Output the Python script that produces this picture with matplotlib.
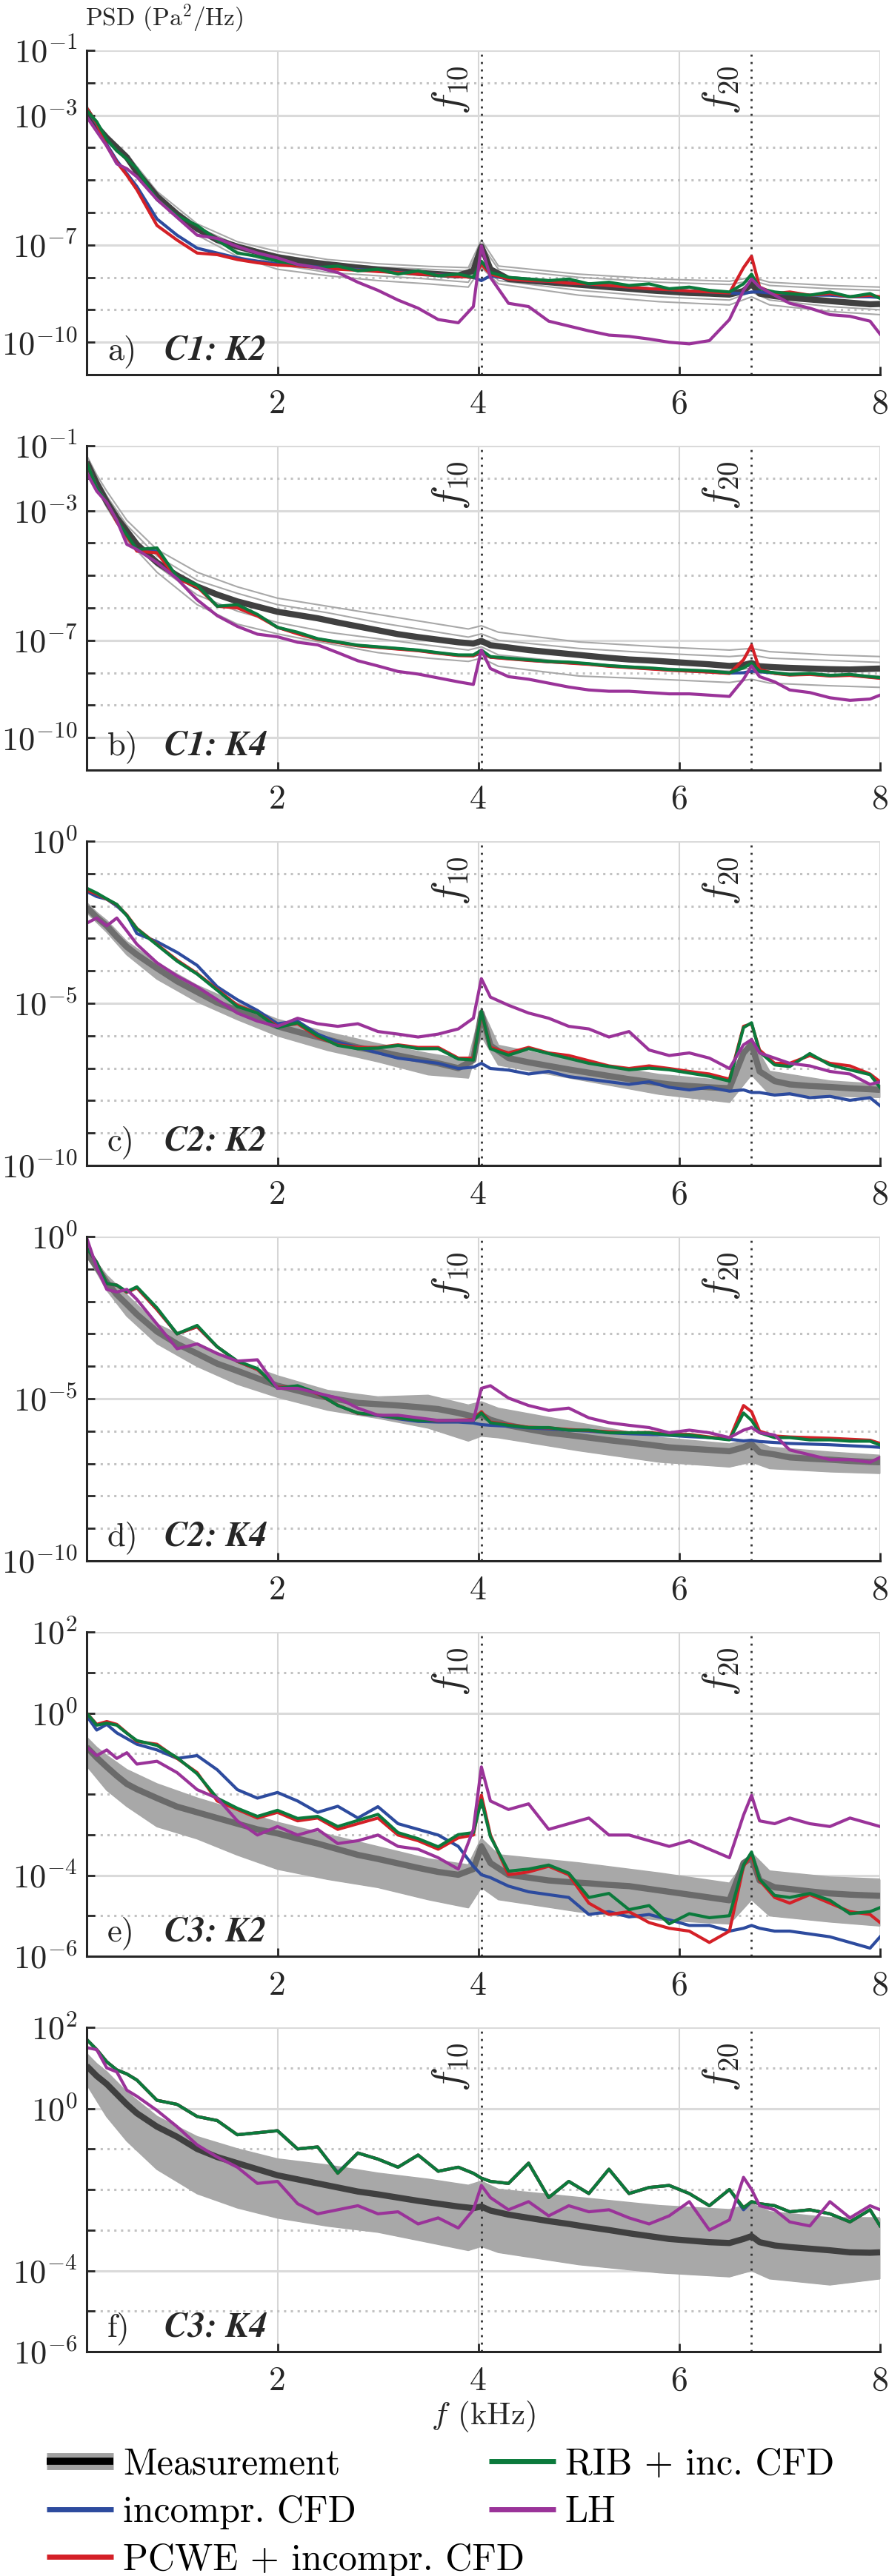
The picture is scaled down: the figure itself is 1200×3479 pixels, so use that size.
import matplotlib
matplotlib.use("Agg")
import matplotlib.pyplot as plt
import numpy as np
from matplotlib.lines import Line2D
from matplotlib.ticker import FixedLocator, FuncFormatter, NullFormatter

plt.rcParams["font.family"] = "serif"
plt.rcParams["font.serif"] = ["cmr10"]
plt.rcParams["mathtext.fontset"] = "cm"
plt.rcParams["axes.unicode_minus"] = False

# frequency grid (kHz) of the simulated / mean spectra
freq = [0.1, 0.2, 0.3, 0.4, 0.5, 0.6, 0.8, 1.0, 1.2, 1.4, 1.6, 1.8,
        2.0, 2.2, 2.4, 2.6, 2.8, 3.0, 3.2, 3.4, 3.6, 3.8, 3.95, 4.03,
        4.12, 4.3, 4.5, 4.7, 4.9, 5.1, 5.3, 5.5, 5.7, 5.9, 6.1, 6.3,
        6.5, 6.64, 6.72, 6.8, 6.95, 7.1, 7.3, 7.5, 7.7, 7.9, 8.0]
# coarser grid of the single measurement runs
freq_runs = [0.1, 0.2, 0.3, 0.5, 0.8, 1.2, 1.6, 2.0, 2.5, 3.0, 3.5, 3.9,
             4.03, 4.2, 5.0, 5.8, 6.5, 6.72, 6.9, 7.5, 8.0]

f10 = 4.03
f20 = 6.72

# all PSD values as log10(Pa^2/Hz)
# ---- a) C1: K2
mean_a = [-2.85, -3.35, -3.7, -4.0, -4.3, -4.75, -5.5, -6.05, -6.5, -6.85, -7.05, -7.22,
          -7.38, -7.48, -7.56, -7.63, -7.7, -7.76, -7.81, -7.86, -7.9, -7.94, -7.8, -7.05,
          -7.75, -8.05, -8.1, -8.15, -8.2, -8.25, -8.3, -8.35, -8.4, -8.44, -8.48, -8.5,
          -8.53, -8.42, -8.2, -8.5, -8.58, -8.63, -8.68, -8.73, -8.78, -8.83, -8.82]
blue_a = [-2.8, -3.28, -3.9, -4.4, -4.8, -5.2, -6.2, -6.7, -7.1, -7.25, -7.4, -7.5,
          -7.58, -7.62, -7.68, -7.73, -7.76, -7.8, -7.84, -7.88, -7.92, -7.96, -8.0, -8.1,
          -7.95, -8.05, -8.1, -8.12, -8.18, -8.2, -8.25, -8.3, -8.35, -8.38, -8.42, -8.45,
          -8.48, -8.5, -8.45, -8.45, -8.5, -8.5, -8.55, -8.55, -8.6, -8.6, -8.62]
red_a = [-2.78, -3.25, -3.95, -4.45, -4.85, -5.3, -6.4, -6.85, -7.25, -7.3, -7.45, -7.55,
         -7.62, -7.65, -7.7, -7.75, -7.78, -7.82, -7.85, -7.9, -7.93, -7.97, -8.0, -7.6,
         -7.9, -8.05, -8.1, -8.12, -8.18, -8.2, -8.25, -8.3, -8.35, -8.38, -8.42, -8.45,
         -8.48, -7.7, -7.35, -8.3, -8.5, -8.45, -8.55, -8.5, -8.6, -8.55, -8.6]
green_a = [-2.85, -3.2, -3.75, -4.1, -4.35, -4.65, -5.6, -6.1, -6.4, -6.85, -7.25, -7.35,
           -7.5, -7.6, -7.7, -7.65, -7.8, -7.75, -7.9, -7.8, -7.95, -7.9, -8.0, -7.5,
           -7.85, -8.0, -8.05, -8.1, -8.05, -8.2, -8.15, -8.25, -8.2, -8.35, -8.3, -8.4,
           -8.45, -8.2, -7.9, -8.35, -8.45, -8.5, -8.55, -8.45, -8.6, -8.5, -8.65]
purple_a = [-3.05, -3.5, -3.95, -4.5, -4.65, -4.9, -5.6, -6.15, -6.7, -6.8, -7.05, -7.25,
            -7.4, -7.6, -7.7, -7.85, -8.15, -8.4, -8.7, -8.95, -9.3, -9.4, -8.9, -7.03,
            -8.0, -8.8, -8.9, -9.35, -9.5, -9.65, -9.78, -9.82, -9.9, -10.0, -10.05, -9.95,
            -9.3, -8.4, -8.05, -8.3, -8.55, -8.8, -8.95, -9.15, -9.2, -9.35, -9.75]
runs_a = [
    [-2.7, -3.25, -3.6, -4.2, -5.35, -6.35, -6.9, -7.2, -7.45, -7.58, -7.66, -7.7, -6.85,
     -7.65, -7.9, -8.05, -8.12, -8.0, -8.15, -8.25, -8.3],
    [-2.8, -3.3, -3.7, -4.3, -5.45, -6.45, -7.0, -7.3, -7.55, -7.68, -7.75, -7.8, -7.0,
     -7.75, -8.0, -8.15, -8.22, -8.1, -8.25, -8.35, -8.4],
    [-2.85, -3.35, -3.75, -4.35, -5.5, -6.55, -7.2, -7.6, -7.85, -7.95, -8.05, -8.15, -7.5,
     -8.1, -8.4, -8.6, -8.7, -8.45, -8.7, -8.9, -9.0],
    [-2.9, -3.4, -3.8, -4.4, -5.6, -6.7, -7.35, -7.75, -7.95, -8.1, -8.2, -8.3, -7.7,
     -8.2, -8.55, -8.75, -8.85, -8.6, -8.85, -9.05, -9.15],
]

# ---- b) C1: K4
mean_b = [-1.5, -2.16, -2.73, -3.22, -3.63, -4.04, -4.6, -5.0, -5.34, -5.59, -5.8, -5.96,
          -6.12, -6.22, -6.32, -6.45, -6.57, -6.69, -6.81, -6.9, -6.98, -7.06, -7.1, -7.02,
          -7.15, -7.22, -7.3, -7.36, -7.42, -7.48, -7.54, -7.59, -7.62, -7.66, -7.7, -7.74,
          -7.79, -7.76, -7.7, -7.8, -7.83, -7.85, -7.87, -7.89, -7.9, -7.88, -7.87]
blue_b = [-1.5, -2.28, -2.75, -3.32, -3.78, -4.22, -4.25, -5.08, -5.32, -5.95, -5.95, -6.22,
          -6.6, -6.78, -6.96, -7.06, -7.16, -7.21, -7.26, -7.31, -7.39, -7.46, -7.47, -7.4,
          -7.52, -7.56, -7.61, -7.66, -7.69, -7.73, -7.79, -7.83, -7.87, -7.91, -7.94, -7.97,
          -8.01, -8.0, -7.95, -7.97, -8.01, -8.06, -8.04, -8.09, -8.07, -8.13, -8.16]
red_b = [-1.5, -2.3, -2.75, -3.35, -3.8, -4.25, -4.3, -5.1, -5.35, -5.95, -6.0, -6.25,
         -6.6, -6.8, -6.97, -7.07, -7.17, -7.22, -7.27, -7.32, -7.4, -7.47, -7.48, -7.35,
         -7.52, -7.57, -7.62, -7.66, -7.7, -7.74, -7.8, -7.84, -7.88, -7.92, -7.95, -7.98,
         -8.02, -7.6, -7.15, -7.9, -8.02, -8.07, -8.05, -8.1, -8.08, -8.14, -8.17]
green_b = [-1.5, -2.3, -2.75, -3.3, -3.75, -4.2, -4.15, -5.05, -5.3, -5.95, -5.9, -6.2,
           -6.6, -6.75, -6.95, -7.05, -7.15, -7.2, -7.25, -7.3, -7.38, -7.45, -7.45, -7.3,
           -7.5, -7.55, -7.6, -7.65, -7.67, -7.72, -7.78, -7.82, -7.85, -7.9, -7.92, -7.95,
           -8.0, -7.85, -7.7, -7.95, -8.0, -8.05, -8.02, -8.08, -8.05, -8.12, -8.15]
purple_b = [-1.83, -2.4, -2.75, -3.3, -4.04, -4.2, -4.6, -5.1, -5.75, -6.24, -6.57, -6.81,
            -6.89, -7.06, -7.14, -7.38, -7.63, -7.79, -7.96, -8.04, -8.16, -8.28, -8.36, -7.3,
            -7.87, -8.12, -8.2, -8.32, -8.44, -8.53, -8.57, -8.57, -8.61, -8.65, -8.65, -8.69,
            -8.73, -8.2, -7.79, -8.12, -8.28, -8.53, -8.61, -8.77, -8.85, -8.81, -8.69]
runs_b = [
    [-1.3, -1.9, -2.4, -3.3, -4.2, -4.9, -5.35, -5.7, -5.95, -6.2, -6.45, -6.65, -6.55,
     -6.75, -7.05, -7.2, -7.3, -7.25, -7.35, -7.45, -7.5],
    [-1.4, -2.0, -2.55, -3.45, -4.4, -5.15, -5.55, -5.9, -6.15, -6.45, -6.7, -6.9, -6.8,
     -7.0, -7.25, -7.4, -7.5, -7.45, -7.55, -7.62, -7.68],
    [-1.55, -2.2, -2.8, -3.75, -4.7, -5.6, -6.1, -6.45, -6.75, -6.95, -7.15, -7.3, -7.2,
     -7.45, -7.7, -7.85, -7.95, -7.85, -7.98, -8.05, -8.1],
    [-1.6, -2.3, -2.9, -3.9, -4.9, -5.9, -6.5, -6.8, -7.1, -7.38, -7.55, -7.65, -7.55,
     -7.8, -8.1, -8.2, -8.3, -8.2, -8.32, -8.4, -8.45],
]

# ---- c) C2: K2
mean_c = [-2.04, -2.35, -2.61, -2.95, -3.26, -3.5, -3.92, -4.32, -4.65, -4.98, -5.22, -5.46,
          -5.71, -5.88, -6.04, -6.2, -6.36, -6.48, -6.61, -6.73, -6.85, -7.0, -6.75, -5.3,
          -6.3, -6.69, -6.82, -6.93, -7.04, -7.14, -7.24, -7.34, -7.42, -7.5, -7.55, -7.59,
          -7.62, -6.53, -6.25, -7.1, -7.4, -7.5, -7.55, -7.58, -7.62, -7.65, -7.67]
blue_c = [-1.55, -1.71, -1.79, -2.0, -2.28, -2.85, -3.1, -3.43, -3.83, -4.49, -4.89, -5.22,
          -5.63, -5.55, -5.95, -6.2, -6.36, -6.53, -6.69, -6.77, -6.85, -7.01, -6.97, -6.85,
          -7.01, -7.06, -7.18, -7.1, -7.26, -7.34, -7.42, -7.5, -7.42, -7.59, -7.67, -7.59,
          -7.71, -7.67, -7.75, -7.75, -7.83, -7.79, -7.91, -7.87, -7.99, -7.91, -8.16]
red_c = [-1.51, -1.63, -1.79, -1.96, -2.28, -2.69, -3.18, -3.67, -4.08, -4.57, -5.06, -5.3,
         -5.71, -5.63, -6.04, -6.28, -6.36, -6.36, -6.28, -6.36, -6.36, -6.69, -6.69, -5.3,
         -6.36, -6.53, -6.36, -6.53, -6.61, -6.77, -6.93, -7.01, -6.93, -7.01, -7.1, -7.18,
         -7.34, -5.71, -5.63, -6.44, -6.85, -6.85, -6.61, -6.85, -6.93, -7.18, -7.42]
green_c = [-1.45, -1.6, -1.78, -1.95, -2.3, -2.7, -3.2, -3.7, -4.1, -4.6, -5.1, -5.3,
           -5.75, -5.6, -6.0, -6.3, -6.4, -6.38, -6.3, -6.4, -6.4, -6.72, -6.75, -5.25,
           -6.4, -6.6, -6.4, -6.55, -6.7, -6.85, -6.95, -7.05, -7.0, -7.05, -7.15, -7.25,
           -7.4, -5.75, -5.6, -6.5, -6.9, -6.95, -6.55, -6.9, -7.05, -7.2, -7.6]
purple_c = [-2.53, -2.37, -2.61, -2.37, -2.77, -3.18, -3.75, -4.16, -4.49, -4.89, -5.3, -5.55,
            -5.71, -5.46, -5.63, -5.71, -5.63, -5.87, -5.95, -6.04, -5.95, -5.79, -5.46, -4.24,
            -4.81, -5.06, -5.3, -5.46, -5.71, -5.79, -6.04, -5.87, -6.44, -6.61, -6.53, -6.69,
            -7.01, -6.28, -6.12, -6.53, -6.69, -6.85, -6.93, -7.1, -7.18, -7.5, -7.42]
runs_c = [
    [-1.9, -2.2, -2.45, -3.1, -3.75, -4.45, -5.0, -5.5, -5.9, -6.25, -6.55, -6.75, -5.15,
     -6.3, -6.8, -7.2, -7.4, -6.1, -7.1, -7.4, -7.5],
    [-2.1, -2.4, -2.7, -3.3, -4.05, -4.75, -5.3, -5.8, -6.2, -6.55, -6.95, -7.1, -5.6,
     -6.6, -7.1, -7.5, -7.8, -6.7, -7.5, -7.7, -7.75],
    [-2.2, -2.5, -2.8, -3.5, -4.25, -4.95, -5.5, -6.0, -6.45, -6.8, -7.2, -7.3, -6.0,
     -6.9, -7.35, -7.8, -8.05, -7.2, -7.8, -7.85, -7.9],
]

# ---- d) C2: K4
mean_d = [-0.49, -0.95, -1.41, -1.79, -2.09, -2.4, -2.93, -3.31, -3.61, -3.92, -4.14, -4.37,
          -4.6, -4.75, -4.91, -5.02, -5.13, -5.17, -5.21, -5.26, -5.32, -5.44, -5.55, -5.5,
          -5.65, -5.82, -5.94, -6.05, -6.12, -6.2, -6.28, -6.35, -6.42, -6.5, -6.54, -6.58,
          -6.62, -6.5, -6.4, -6.65, -6.72, -6.81, -6.85, -6.88, -6.92, -6.95, -6.96]
blue_d = [-0.34, -0.8, -1.45, -1.5, -1.72, -1.58, -2.25, -3.0, -2.78, -3.4, -3.85, -4.1,
          -4.65, -4.62, -4.85, -5.2, -5.45, -5.52, -5.62, -5.7, -5.72, -5.72, -5.75, -5.8,
          -5.82, -5.85, -5.9, -5.93, -5.97, -6.0, -6.05, -6.08, -6.1, -6.13, -6.17, -6.2,
          -6.25, -6.3, -6.28, -6.32, -6.35, -6.38, -6.4, -6.42, -6.45, -6.48, -6.5]
red_d = [-0.34, -0.8, -1.45, -1.5, -1.72, -1.58, -2.25, -3.0, -2.78, -3.4, -3.85, -4.1,
         -4.65, -4.62, -4.85, -5.2, -5.45, -5.5, -5.6, -5.65, -5.68, -5.66, -5.65, -5.4,
         -5.72, -5.8, -5.88, -5.9, -5.95, -5.98, -6.02, -6.05, -6.04, -6.1, -6.1, -6.18,
         -6.25, -5.21, -5.4, -6.0, -6.15, -6.18, -6.2, -6.22, -6.25, -6.28, -6.38]
green_d = [-0.34, -0.8, -1.45, -1.5, -1.7, -1.55, -2.2, -3.0, -2.74, -3.4, -3.84, -4.07,
           -4.68, -4.6, -4.83, -5.21, -5.44, -5.51, -5.59, -5.67, -5.67, -5.67, -5.67, -5.44,
           -5.74, -5.82, -5.89, -5.89, -5.97, -5.97, -6.05, -6.05, -6.05, -6.12, -6.12, -6.2,
           -6.27, -5.44, -5.67, -6.05, -6.2, -6.2, -6.27, -6.27, -6.31, -6.31, -6.43]
purple_d = [-0.04, -0.95, -1.63, -1.71, -1.63, -1.94, -2.7, -3.46, -3.31, -3.61, -3.84, -3.8,
            -4.68, -4.68, -4.83, -4.98, -5.29, -5.51, -5.51, -5.59, -5.67, -5.67, -5.67, -4.68,
            -4.6, -4.98, -5.21, -5.36, -5.29, -5.59, -5.74, -5.82, -5.89, -6.05, -5.97, -6.05,
            -6.2, -5.97, -5.89, -6.05, -6.12, -6.58, -6.73, -6.88, -6.88, -6.96, -6.81]
runs_d = [
    [-0.4, -0.8, -1.2, -1.8, -2.7, -3.3, -3.85, -4.3, -4.75, -4.95, -4.9, -5.2, -5.1,
     -5.3, -5.75, -6.2, -6.4, -6.25, -6.5, -6.65, -6.75],
    [-0.5, -0.95, -1.45, -2.15, -3.0, -3.7, -4.2, -4.6, -5.0, -5.25, -5.4, -5.8, -5.6,
     -5.8, -6.2, -6.55, -6.75, -6.6, -6.8, -6.95, -7.05],
    [-0.6, -1.1, -1.65, -2.45, -3.3, -4.0, -4.55, -4.95, -5.35, -5.6, -5.9, -6.3, -6.15,
     -6.2, -6.6, -6.95, -7.1, -6.95, -7.15, -7.25, -7.3],
]

# ---- e) C3: K2
mean_e = [-0.84, -1.1, -1.33, -1.55, -1.75, -1.88, -2.1, -2.31, -2.45, -2.59, -2.73, -2.87,
          -2.97, -3.1, -3.22, -3.36, -3.5, -3.6, -3.71, -3.82, -3.92, -3.99, -3.85, -3.29,
          -3.7, -3.99, -4.06, -4.13, -4.17, -4.2, -4.24, -4.27, -4.34, -4.41, -4.48, -4.55,
          -4.62, -3.7, -3.57, -4.13, -4.3, -4.34, -4.4, -4.45, -4.48, -4.5, -4.51]
blue_e = [-0.07, -0.42, -0.28, -0.49, -0.63, -0.77, -0.91, -1.12, -1.05, -1.4, -1.89, -2.1,
          -1.96, -2.17, -2.45, -2.3, -2.59, -2.31, -2.73, -2.87, -3.01, -3.29, -3.78, -3.99,
          -4.06, -4.27, -4.41, -4.48, -4.55, -4.97, -4.9, -5.03, -4.97, -5.1, -5.24, -5.24,
          -5.38, -5.31, -5.24, -5.31, -5.38, -5.38, -5.45, -5.52, -5.66, -5.8, -5.52]
red_e = [0.0, -0.28, -0.21, -0.28, -0.49, -0.7, -0.77, -1.12, -1.47, -2.17, -2.38, -2.59,
         -2.45, -2.66, -2.59, -2.87, -2.73, -2.59, -3.01, -3.15, -3.36, -3.08, -3.01, -2.03,
         -3.01, -3.99, -3.92, -3.78, -3.99, -4.69, -4.97, -4.9, -5.17, -5.31, -5.38, -5.66,
         -5.38, -3.78, -3.5, -4.13, -4.55, -4.69, -4.48, -4.69, -4.9, -4.97, -5.17]
green_e = [0.0, -0.3, -0.25, -0.3, -0.5, -0.68, -0.8, -1.1, -1.5, -2.1, -2.35, -2.55,
           -2.4, -2.6, -2.55, -2.8, -2.65, -2.5, -2.95, -3.1, -3.3, -3.0, -2.95, -2.15,
           -3.05, -3.9, -3.85, -3.75, -3.95, -4.55, -4.45, -4.85, -4.75, -5.2, -4.95, -5.05,
           -5.0, -3.75, -3.43, -4.1, -4.5, -4.55, -4.45, -4.62, -4.95, -4.9, -4.8]
purple_e = [-0.84, -1.05, -0.91, -1.12, -0.98, -1.26, -1.19, -1.47, -1.89, -2.1, -2.66, -3.01,
            -2.8, -3.01, -2.87, -3.22, -3.15, -3.01, -3.29, -3.36, -3.57, -3.85, -2.87, -1.33,
            -2.17, -2.38, -2.24, -2.87, -2.73, -2.59, -3.01, -3.01, -3.15, -3.29, -3.15, -3.36,
            -3.57, -2.52, -2.03, -2.66, -2.73, -2.59, -2.73, -2.8, -2.59, -2.73, -2.8]
runs_e = [
    [-0.6, -0.85, -1.05, -1.4, -1.75, -2.1, -2.4, -2.7, -3.0, -3.3, -3.6, -3.75, -3.1,
     -3.5, -3.7, -3.95, -4.2, -3.45, -3.9, -4.05, -4.1],
    [-1.0, -1.3, -1.55, -1.9, -2.35, -2.7, -3.0, -3.3, -3.6, -3.85, -4.15, -4.3, -3.6,
     -4.1, -4.35, -4.55, -4.75, -4.0, -4.5, -4.65, -4.75],
    [-1.3, -1.6, -1.9, -2.3, -2.8, -3.1, -3.5, -3.85, -4.1, -4.3, -4.6, -4.8, -4.3,
     -4.6, -4.9, -5.1, -5.2, -4.6, -5.0, -5.15, -5.25],
]

# ---- f) C3: K4
mean_f = [1.05, 0.8, 0.6, 0.35, 0.1, -0.12, -0.45, -0.7, -1.0, -1.2, -1.35, -1.5,
          -1.65, -1.75, -1.85, -1.95, -2.05, -2.12, -2.2, -2.28, -2.35, -2.42, -2.46, -2.42,
          -2.52, -2.62, -2.7, -2.78, -2.85, -2.93, -3.0, -3.08, -3.15, -3.22, -3.26, -3.3,
          -3.32, -3.22, -3.15, -3.3, -3.38, -3.42, -3.46, -3.5, -3.55, -3.56, -3.55]
blue_f = [1.7, 1.45, 1.15, 0.95, 0.85, 0.7, 0.2, 0.1, -0.2, -0.3, -0.65, -0.6,
          -0.55, -1.0, -0.95, -1.58, -1.1, -1.25, -1.45, -1.15, -1.55, -1.45, -1.6, -1.72,
          -1.8, -1.85, -1.35, -2.2, -1.8, -2.1, -1.5, -2.1, -1.95, -1.9, -2.1, -2.4,
          -2.0, -2.5, -2.3, -2.35, -2.4, -2.55, -2.5, -2.6, -2.8, -2.5, -2.9]
red_f = [1.7, 1.45, 1.15, 0.95, 0.85, 0.7, 0.2, 0.1, -0.2, -0.3, -0.65, -0.6,
         -0.55, -1.0, -0.95, -1.6, -1.1, -1.25, -1.45, -1.15, -1.55, -1.45, -1.6, -1.72,
         -1.8, -1.85, -1.35, -2.2, -1.8, -2.1, -1.5, -2.1, -1.95, -1.9, -2.1, -2.4,
         -2.0, -2.45, -2.3, -2.35, -2.4, -2.55, -2.5, -2.6, -2.8, -2.5, -2.9]
green_f = [1.7, 1.45, 1.15, 0.95, 0.85, 0.7, 0.2, 0.1, -0.2, -0.3, -0.65, -0.6,
           -0.55, -1.0, -0.95, -1.6, -1.1, -1.25, -1.45, -1.15, -1.55, -1.45, -1.6, -1.72,
           -1.8, -1.85, -1.35, -2.2, -1.8, -2.1, -1.5, -2.1, -1.95, -1.9, -2.1, -2.4,
           -2.0, -2.45, -2.3, -2.35, -2.4, -2.55, -2.5, -2.6, -2.8, -2.5, -2.9]
purple_f = [1.5, 1.45, 1.0, 0.9, 0.45, 0.3, -0.05, -0.45, -0.9, -1.2, -1.45, -1.85,
            -1.8, -2.35, -2.6, -2.5, -2.4, -2.6, -2.55, -2.85, -2.7, -2.95, -2.5, -1.9,
            -2.2, -2.5, -2.3, -2.65, -2.4, -2.55, -2.5, -2.7, -2.85, -2.65, -2.3, -3.0,
            -2.75, -1.7, -2.0, -2.4, -2.5, -2.8, -2.9, -2.3, -2.7, -2.4, -2.5]
runs_f = [
    [1.35, 1.1, 0.9, 0.4, -0.2, -0.7, -1.0, -1.25, -1.4, -1.6, -1.75, -1.9, -1.8,
     -2.0, -2.2, -2.4, -2.5, -2.35, -2.55, -2.7, -2.7],
    [0.95, 0.6, 0.35, -0.2, -0.85, -1.4, -1.75, -2.0, -2.2, -2.35, -2.55, -2.75, -2.65,
     -2.8, -3.05, -3.3, -3.45, -3.25, -3.5, -3.6, -3.5],
    [0.6, 0.2, -0.2, -0.8, -1.5, -2.1, -2.45, -2.7, -2.9, -3.05, -3.3, -3.5, -3.4,
     -3.55, -3.85, -4.05, -4.15, -4.0, -4.2, -4.35, -4.2],
]

panel_tags = ["a)", "b)", "c)", "d)", "e)", "f)"]
panel_cases = ["C1: K2", "C1: K4", "C2: K2", "C2: K4", "C3: K2", "C3: K4"]
y_limits = [(-11, -1), (-11, -1), (-10, 0), (-10, 0), (-6, 2), (-6, 2)]
y_labelled = [[-10, -7, -3, -1], [-10, -7, -3, -1], [-10, -5, 0], [-10, -5, 0],
              [-6, -4, 0, 2], [-6, -4, 0, 2]]
x_ticks = [2, 4, 6, 8]
legend_labels = ["Measurement", "incompr. CFD", "PCWE + incompr. CFD", "RIB + inc. CFD", "LH"]

means = [mean_a, mean_b, mean_c, mean_d, mean_e, mean_f]
blues = [blue_a, blue_b, blue_c, blue_d, blue_e, blue_f]
reds = [red_a, red_b, red_c, red_d, red_e, red_f]
greens = [green_a, green_b, green_c, green_d, green_e, green_f]
purples = [purple_a, purple_b, purple_c, purple_d, purple_e, purple_f]
runs = [runs_a, runs_b, runs_c, runs_d, runs_e, runs_f]

C_BLUE = "#2D4B9E"
C_RED = "#D42027"
C_GREEN = "#0B7A3C"
C_PURPLE = "#9A3399"
C_RUN = "#A8A8A8"
mean_colors = ["#404040", "#404040", "#6E6E6E", "#6E6E6E", "#6A6A6A", "#404040"]
INK = "#262626"

W, H = 1200, 3479
fig = plt.figure(figsize=(W / 100, H / 100), dpi=100)

AX_LEFT, AX_W, AX_H, AX_TOP0, AX_STEP = 117, 1071, 438, 68, 534


def decade_label(v, pos):
    return r"$10^{%d}$" % int(round(np.log10(v)))


axes = []
for i in range(6):
    top = AX_TOP0 + AX_STEP * i
    ax = fig.add_axes([AX_LEFT / W, 1 - (top + AX_H) / H, AX_W / W, AX_H / H])
    axes.append(ax)
    f = np.array(freq)
    fr = np.array(freq_runs)

    run_vals = [10.0 ** np.array(r) for r in runs[i]]
    if i >= 2:
        ax.fill_between(fr, run_vals[0], run_vals[-1], color=C_RUN, lw=0, zorder=1.9)
    for rv in run_vals:
        ax.plot(fr, rv, color=C_RUN, lw=1.5, zorder=2)
    ax.plot(f, 10.0 ** np.array(means[i]), color=mean_colors[i], lw=6, zorder=3,
            solid_capstyle="butt")
    ax.plot(f, 10.0 ** np.array(blues[i]), color=C_BLUE, lw=3, zorder=4)
    ax.plot(f, 10.0 ** np.array(reds[i]), color=C_RED, lw=3, zorder=5)
    ax.plot(f, 10.0 ** np.array(greens[i]), color=C_GREEN, lw=3, zorder=6)
    ax.plot(f, 10.0 ** np.array(purples[i]), color=C_PURPLE, lw=3, zorder=7)

    for fv, name in [(f10, r"$f_{10}$"), (f20, r"$f_{20}$")]:
        ax.axvline(fv, color="#333333", lw=2, ls=(0, (1, 2.6)), zorder=2.5)
        ax.annotate(name, xy=(fv, 1), xycoords=("data", "axes fraction"),
                    xytext=(-10, -15), textcoords="offset points", rotation=90,
                    ha="right", va="top", fontsize=40, color=INK)

    lo, hi = y_limits[i]
    ax.set_yscale("log")
    ax.set_ylim(10.0 ** lo, 10.0 ** hi)
    ax.set_xlim(0.1, 8)
    labelled = y_labelled[i]
    others = [d for d in range(lo, hi + 1) if d not in labelled and d != lo]
    ax.yaxis.set_major_locator(FixedLocator(10.0 ** np.array(labelled, dtype=float)))
    ax.yaxis.set_minor_locator(FixedLocator(10.0 ** np.array(others, dtype=float)))
    ax.yaxis.set_major_formatter(FuncFormatter(decade_label))
    ax.yaxis.set_minor_formatter(NullFormatter())
    ax.set_xticks(x_ticks, labels=[str(t) for t in x_ticks])

    ax.set_axisbelow(True)
    ax.yaxis.grid(True, which="major", color="#DADADA", lw=2.2, ls="-")
    ax.yaxis.grid(True, which="minor", color="#C2C2C2", lw=2.2, ls=(0, (1, 2)))
    ax.xaxis.grid(True, which="major", color="#D6D6D6", lw=1.5, ls="-")

    for side in ["top", "right"]:
        ax.spines[side].set_visible(False)
    for side in ["left", "bottom"]:
        ax.spines[side].set_linewidth(2.2)
        ax.spines[side].set_color(INK)
        ax.spines[side].set_zorder(10)
    ax.tick_params(axis="both", which="both", direction="in", length=8, width=2,
                   color=INK, labelcolor=INK, top=False, right=False)
    ax.tick_params(axis="y", which="both", labelsize=32, pad=9)
    ax.tick_params(axis="x", which="both", labelsize=33, pad=14)

    ax.text(0.026, 0.046, panel_tags[i], transform=ax.transAxes, fontsize=32,
            ha="left", va="baseline", color=INK, zorder=20)
    ax.text(0.098, 0.046, panel_cases[i], transform=ax.transAxes, fontsize=34,
            family="STIXGeneral", weight="bold", style="italic",
            ha="left", va="baseline", color=INK, zorder=20)

fig.text(115 / W, 1 - 25 / H, r"PSD (Pa$^2$/Hz)", fontsize=24, ha="left", va="center",
         color=INK)
axes[-1].set_xlabel(r"$f$ (kHz)", fontsize=31, labelpad=2, color=INK)

meas_handle = (Line2D([], [], color="#A0A0A0", lw=16.5, solid_capstyle="butt"),
               Line2D([], [], color="black", lw=7, solid_capstyle="butt"))
col1 = [meas_handle,
        Line2D([], [], color=C_BLUE, lw=5, solid_capstyle="butt"),
        Line2D([], [], color=C_RED, lw=5, solid_capstyle="butt")]
col2 = [Line2D([], [], color=C_GREEN, lw=5, solid_capstyle="butt"),
        Line2D([], [], color=C_PURPLE, lw=5, solid_capstyle="butt")]
legend_kw = dict(loc="upper left", frameon=False, fontsize=36, handlelength=1.8,
                 handletextpad=0.26, labelspacing=0.37, borderpad=0, borderaxespad=0)
fig.legend(col1, legend_labels[:3], bbox_to_anchor=(63 / W, 1 - 3306 / H), **legend_kw)
fig.legend(col2, legend_labels[3:], bbox_to_anchor=(660 / W, 1 - 3306 / H), **legend_kw)

fig.savefig("out.png", dpi=100)
